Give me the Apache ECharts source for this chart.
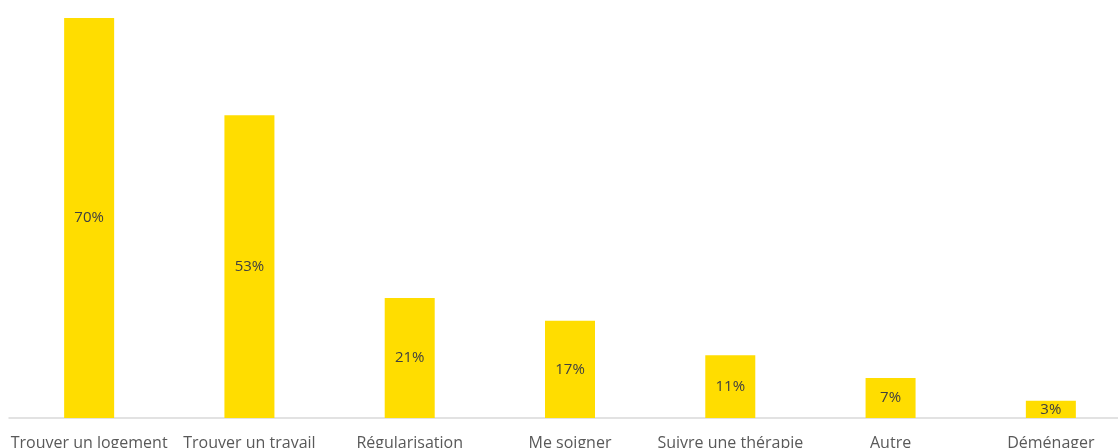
<!DOCTYPE html>
<html>
<head>
<meta charset="utf-8">
<script src="https://cdn.jsdelivr.net/npm/echarts@6/dist/echarts.min.js"></script>
<style>
  html,body{margin:0;padding:0;background:#fff;}
  #main{width:1118px;height:448px;}
</style>
</head>
<body>
<div id="main"></div>
<script>
  var categories = ['Trouver un logement', 'Trouver un travail', 'Régularisation', 'Me soigner', 'Suivre une thérapie', 'Autre', 'Déménager'];
  var values = [70, 53, 21, 17, 11, 7, 3];

  /*柱状图*/
  !function(){
    var myChart = echarts.init(document.getElementById('main'));
    var option = {
      animation: false,
      grid: { left: 9, right: -13, top: 18, bottom: 30, containLabel: false, outerBoundsMode: 'none' },
      xAxis: {
        type: 'category',
        data: categories,
        axisLine: { lineStyle: { color: '#d9d9d9', width: 1.5 } },
        axisTick: { show: false },
        axisLabel: {
          interval: 0,
          margin: 17,
          color: '#595959',
          fontFamily: 'Open Sans',
          fontSize: 16
        }
      },
      yAxis: {
        type: 'value',
        min: 0,
        max: 70,
        show: false
      },
      series: [{
        type: 'bar',
        data: values,
        barWidth: 50,
        itemStyle: { color: '#ffdd00' },
        label: {
          show: true,
          position: 'inside',
          formatter: '{c}%',
          color: '#404040',
          fontFamily: 'Open Sans',
          fontSize: 15
        }
      }]
    };
    myChart.setOption(option);
  }();
</script>
</body>
</html>
